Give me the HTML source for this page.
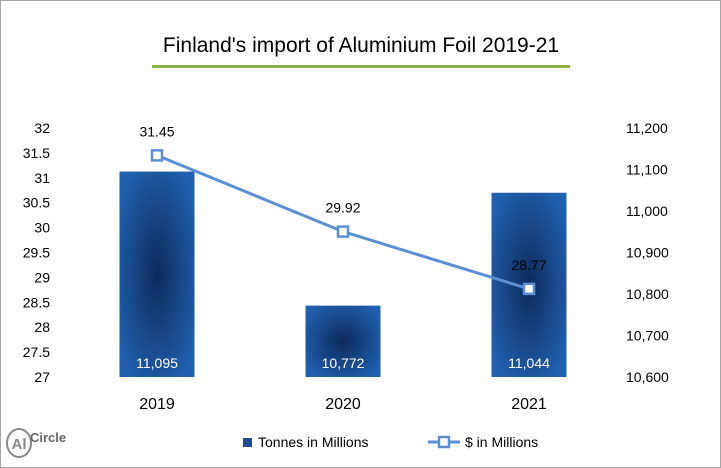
<!DOCTYPE html>
<html><head><meta charset="utf-8"><style>
body{margin:0;background:#fff}
svg{display:block;font-family:"Liberation Sans",sans-serif}
</style></head><body>
<svg id="c" width="721" height="468">
<defs>
<radialGradient id="bg" cx="0.5" cy="0.5" r="0.6">
<stop offset="0" stop-color="#0c2a5c"/><stop offset="1" stop-color="#2060ae"/>
</radialGradient>
</defs>
<rect x="0.5" y="0.5" width="720" height="467" fill="#fff" stroke="#a6a6a6"/>
<text x="361" y="52" text-anchor="middle" font-size="21" fill="#000">Finland's import of Aluminium Foil 2019-21</text>
<rect x="152" y="65" width="418" height="3" fill="#8cb04a"/>
<g id="plot"></g>
<g>
<ellipse cx="19" cy="443" rx="12" ry="14" fill="none" stroke="#888" stroke-width="2"/>
<text x="19" y="449" text-anchor="middle" font-size="15" fill="#888" font-weight="bold">Al</text>
<text x="30" y="442" font-size="13" fill="#666" font-weight="bold">Circle</text>
</g>
<g>
<rect x="243" y="438" width="9" height="9" fill="#1f4e8f"/>
<text x="258" y="447" font-size="14">Tonnes in Millions</text>
<line x1="428" y1="442" x2="460" y2="442" stroke="#5b8fd4" stroke-width="3"/>
<rect x="439" y="437" width="10" height="10" fill="#fff" stroke="#5b8fd4" stroke-width="2.5"/>
<text x="465" y="447" font-size="14">$ in Millions</text>
</g>
</svg>
<script>
const categories=["2019","2020","2021"];
const tonnes=[11095,10772,11044];
const tonnesLabels=["11,095","10,772","11,044"];
const dollars=[31.45,29.92,28.77];
const leftTicks=[27,27.5,28,28.5,29,29.5,30,30.5,31,31.5,32];
const rightTicks=[10600,10700,10800,10900,11000,11100,11200];
const NS="http://www.w3.org/2000/svg";
const g=document.getElementById("plot");
const yTop=128,yBot=377,xLeft=66,xRight=624;
const yL=v=>yBot-(v-27)/5*(yBot-yTop);
const yR=v=>yBot-(v-10600)/600*(yBot-yTop);
const band=(xRight-xLeft)/categories.length;
const xC=i=>xLeft+band*(i+0.5)-2;
function el(t,a,txt){const e=document.createElementNS(NS,t);for(const k in a)e.setAttribute(k,a[k]);if(txt!==undefined)e.textContent=txt;g.appendChild(e);return e;}
leftTicks.forEach(v=>{const e=el("text",{x:50,y:yL(v)+5,"text-anchor":"end","font-size":14},String(v));

});
rightTicks.forEach(v=>{const e=el("text",{x:626,y:yR(v)+5,"font-size":14},v.toLocaleString("en-US"));

});
tonnes.forEach((v,i)=>{const w=75;const e=el("rect",{x:xC(i)-w/2,y:yR(v),width:w,height:yBot-yR(v),fill:"url(#bg)"});


const t=el("text",{x:xC(i),y:yBot-9,"text-anchor":"middle","font-size":14,fill:"#fff"},tonnesLabels[i]);


const c=el("text",{x:xC(i),y:yBot+32,"text-anchor":"middle","font-size":16},categories[i]);

});
const pts=dollars.map((v,i)=>xC(i)+","+yL(v)).join(" ");
const pl=el("polyline",{points:pts,fill:"none",stroke:"#5b8fd4","stroke-width":3});


dollars.forEach((v,i)=>{const m=el("rect",{x:xC(i)-5,y:yL(v)-5,width:10,height:10,fill:"#fff",stroke:"#5b8fd4","stroke-width":2.5});


const t=el("text",{x:xC(i),y:yL(v)-19,"text-anchor":"middle","font-size":14,fill:"#000"},v.toFixed(2));

});
</script>
</body></html>
